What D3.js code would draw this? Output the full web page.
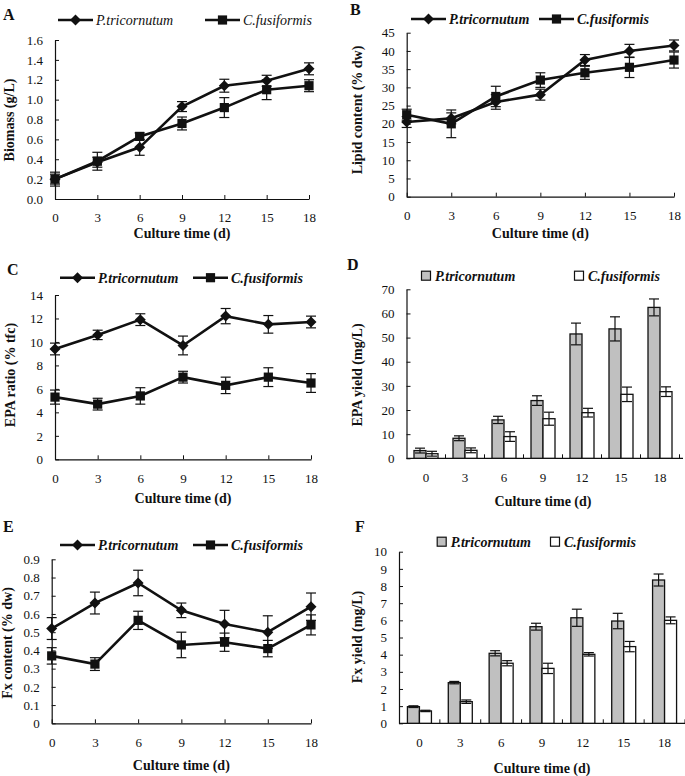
<!DOCTYPE html>
<html><head><meta charset="utf-8">
<script src="https://cdn.jsdelivr.net/npm/d3@7"></script>
<style>
body{margin:0;background:#fff;}
svg text{font-family:"Liberation Serif","Times New Roman",serif;fill:#111;}
</style></head>
<body><svg id="chart" width="685" height="776"></svg>
<script>
// ---------- DATA ----------
const days = ["0","3","6","9","12","15","18"];
const seriesNames = ["P.tricornutum","C.fusiformis"];

// A: Biomass (g/L)
const biomassP    = [0.20,0.37,0.52,0.93,1.14,1.19,1.31];
const biomassPErr = [0.05,0.05,0.08,0.05,0.065,0.055,0.06];
const biomassC    = [0.20,0.38,0.63,0.76,0.92,1.10,1.14];
const biomassCErr = [0.07,0.09,0.035,0.065,0.10,0.10,0.06];
const biomassTicks = [0,0.2,0.4,0.6,0.8,1.0,1.2,1.4,1.6];

// B: Lipid content (% dw)
const lipidP    = [20.5,21.5,26.0,28.0,37.5,40.0,41.5];
const lipidPErr = [1.5,1.5,2.0,1.5,1.5,1.8,1.5];
const lipidC    = [22.5,20.0,27.5,32.0,34.0,35.5,37.5];
const lipidCErr = [1.5,3.8,2.8,2.0,1.8,2.8,2.2];
const lipidTicks = [0,5,10,15,20,25,30,35,40,45];

// C: EPA ratio (% tfc)
const epaRatioP    = [9.4,10.6,11.9,9.7,12.2,11.5,11.7];
const epaRatioPErr = [0.5,0.4,0.5,0.8,0.65,0.75,0.5];
const epaRatioC    = [5.3,4.7,5.4,7.0,6.3,7.0,6.5];
const epaRatioCErr = [0.6,0.5,0.7,0.5,0.7,0.8,0.8];
const epaRatioTicks = [0,2,4,6,8,10,12,14];

// D: EPA yield (mg/L)
const epaYieldP    = [3.2,8.3,15.9,23.9,51.5,53.6,62.5];
const epaYieldPErr = [1.0,1.0,1.5,2.0,4.5,5.0,3.5];
const epaYieldC    = [1.9,3.3,9.0,16.4,18.9,26.5,27.6];
const epaYieldCErr = [1.0,1.0,2.0,2.7,1.8,3.0,2.0];
const epaYieldTicks = [0,10,20,30,40,50,60,70];

// E: Fx content (% dw)
const fxContentP    = [0.52,0.66,0.77,0.62,0.545,0.50,0.64];
const fxContentPErr = [0.06,0.06,0.07,0.04,0.075,0.09,0.075];
const fxContentC    = [0.37,0.325,0.565,0.43,0.445,0.41,0.54];
const fxContentCErr = [0.045,0.035,0.05,0.07,0.05,0.045,0.055];
const fxContentTicks = [0,0.1,0.2,0.3,0.4,0.5,0.6,0.7,0.8,0.9];

// F: Fx yield (mg/L)
const fxYieldP    = [0.97,2.37,4.08,5.63,6.15,5.96,8.35];
const fxYieldPErr = [0.05,0.07,0.15,0.2,0.5,0.45,0.35];
const fxYieldC    = [0.72,1.26,3.50,3.20,4.02,4.47,6.00];
const fxYieldCErr = [0.04,0.1,0.15,0.3,0.1,0.3,0.2];
const fxYieldTicks = [0,1,2,3,4,5,6,7,8,9,10];

const xTitle = "Culture time (d)";

// ---------- DRAW ----------
const svg = d3.select("#chart");
const INK = "#111";

function diamondPath(r){ return `M0,${-r}L${r},0L0,${r}L${-r},0Z`; }
function squarePath(r){ return `M${-r},${-r}H${r}V${r}H${-r}Z`; }

function yAxis(g, y, ticks, fmt, x0){
  const ax = g.append("g").attr("transform",`translate(${x0},0)`)
    .call(d3.axisLeft(y).tickValues(ticks).tickFormat(fmt).tickSizeInner(-4).tickSizeOuter(0).tickPadding(12));
  ax.select(".domain").attr("stroke",INK).attr("stroke-width",1.2);
  ax.selectAll(".tick line").attr("stroke",INK);
  ax.selectAll("text").attr("font-size",13).attr("font-family","Liberation Serif").attr("fill",INK);
  return ax;
}

function panelLabels(g, p){
  g.append("text").attr("x",p.letterX).attr("y",p.letterY).attr("font-size",16).attr("font-weight","bold").text(p.letter);
  g.append("text").attr("x",(p.xl+p.xr)/2).attr("y",p.titleY).attr("text-anchor","middle")
    .attr("font-size",14).attr("font-weight","bold").text(xTitle);
  g.append("text").attr("transform",`translate(${p.ylabX},${p.ylabY}) rotate(-90)`).attr("text-anchor","middle")
    .attr("font-size",14).attr("font-weight","bold").text(p.ylab);
}

function linePanel(p){
  const g = svg.append("g");
  const x = d3.scalePoint().domain(days).range([p.xl,p.xr]);
  const y = d3.scaleLinear().domain([p.ticks[0],p.ticks[p.ticks.length-1]]).range([p.yb,p.yt]);
  yAxis(g,y,p.ticks,p.fmt,p.xl);
  const xa = g.append("g").attr("transform",`translate(0,${p.yb})`)
    .call(d3.axisBottom(x).tickSizeInner(-4).tickSizeOuter(0).tickPadding(14));
  xa.select(".domain").attr("stroke",INK).attr("stroke-width",1.2);
  xa.selectAll(".tick line").attr("stroke",INK);
  xa.selectAll("text").attr("font-size",13).attr("font-family","Liberation Serif").attr("fill",INK);

  const sets = [{v:p.P,e:p.PE,m:diamondPath(5.5)},{v:p.C,e:p.CE,m:squarePath(4.6)}];
  sets.forEach(s=>{
    // error bars
    days.forEach((d,i)=>{
      const cx=x(d), top=y(s.v[i]+s.e[i]), bot=y(s.v[i]-s.e[i]);
      g.append("line").attr("x1",cx).attr("x2",cx).attr("y1",top).attr("y2",bot).attr("stroke",INK).attr("stroke-width",1.2);
      [top,bot].forEach(yy=>g.append("line").attr("x1",cx-5).attr("x2",cx+5).attr("y1",yy).attr("y2",yy).attr("stroke",INK).attr("stroke-width",1.2));
    });
    g.append("path").datum(s.v).attr("fill","none").attr("stroke",INK).attr("stroke-width",2.6)
      .attr("d",d3.line().x((v,i)=>x(days[i])).y(v=>y(v)));
    g.selectAll(null).data(s.v).enter().append("path").attr("d",s.m).attr("fill",INK)
      .attr("transform",(v,i)=>`translate(${x(days[i])},${y(v)})`);
  });
  // legend
  const lg = p.legend;
  [[lg.x1,diamondPath(5.5),seriesNames[0]],[lg.x2,squarePath(4.6),seriesNames[1]]].forEach(([lx,m,name])=>{
    g.append("line").attr("x1",lx).attr("x2",lx+35).attr("y1",lg.y).attr("y2",lg.y).attr("stroke",INK).attr("stroke-width",2.6);
    g.append("path").attr("d",m).attr("fill",INK).attr("transform",`translate(${lx+17.5},${lg.y})`);
    g.append("text").attr("x",lx+38).attr("y",lg.y+5).attr("font-size",14).attr("font-style","italic")
      .attr("font-weight",lg.bold?"bold":"normal").text(name);
  });
  panelLabels(g,p);
}

function barPanel(p){
  const g = svg.append("g");
  const x = d3.scaleBand().domain(days).range([p.xl,p.xr]).paddingInner(0).paddingOuter(0);
  const y = d3.scaleLinear().domain([p.ticks[0],p.ticks[p.ticks.length-1]]).range([p.yb,p.yt]);
  yAxis(g,y,p.ticks,p.fmt,p.xl);
  g.append("line").attr("x1",p.xl).attr("x2",p.axisEnd).attr("y1",p.yb).attr("y2",p.yb).attr("stroke",INK).attr("stroke-width",1.2);
  // ticks at band boundaries
  days.forEach((d,i)=>{ if(i>0){ const bx=x(d);
    g.append("line").attr("x1",bx).attr("x2",bx).attr("y1",p.yb).attr("y2",p.yb-4).attr("stroke",INK);} });
  g.append("line").attr("x1",x(days[6])+x.bandwidth()).attr("x2",x(days[6])+x.bandwidth()).attr("y1",p.yb).attr("y2",p.yb-4).attr("stroke",INK);
  g.selectAll(null).data(days).enter().append("text").attr("x",d=>x(d)+x.bandwidth()/2).attr("y",p.yb+24)
    .attr("text-anchor","middle").attr("font-size",13).text(d=>d);
  const inner = d3.scaleBand().domain(seriesNames).range([-12,12]);
  const sets=[{v:p.P,e:p.PE,fill:"#c0c0c0",n:seriesNames[0]},{v:p.C,e:p.CE,fill:"#ffffff",n:seriesNames[1]}];
  sets.forEach(s=>{
    days.forEach((d,i)=>{
      const bx = x(d)+x.bandwidth()/2+inner(s.n);
      const w = inner.bandwidth();
      g.append("rect").attr("x",bx).attr("y",y(s.v[i])).attr("width",w).attr("height",p.yb-y(s.v[i]))
        .attr("fill",s.fill).attr("stroke",INK).attr("stroke-width",1.3);
      const cx=bx+w/2, top=y(s.v[i]+s.e[i]), bot=y(s.v[i]-s.e[i]);
      g.append("line").attr("x1",cx).attr("x2",cx).attr("y1",top).attr("y2",bot).attr("stroke",INK).attr("stroke-width",1.2);
      [top,bot].forEach(yy=>g.append("line").attr("x1",cx-5).attr("x2",cx+5).attr("y1",yy).attr("y2",yy).attr("stroke",INK).attr("stroke-width",1.2));
    });
  });
  const lg=p.legend;
  [[lg.x1,"#c0c0c0",seriesNames[0]],[lg.x2,"#ffffff",seriesNames[1]]].forEach(([lx,f,name])=>{
    g.append("rect").attr("x",lx-4.5).attr("y",lg.y-4.5).attr("width",9).attr("height",9).attr("fill",f).attr("stroke",INK).attr("stroke-width",1.2);
    g.append("text").attr("x",lx+9).attr("y",lg.y+5).attr("font-size",14).attr("font-style","italic").attr("font-weight","bold").text(name);
  });
  panelLabels(g,p);
}

const f1 = d3.format(".1f");
const fInt = d3.format("d");
const fFx = v => v===0 ? "0" : d3.format(".1f")(v);

linePanel({letter:"A",letterX:3,letterY:20,xl:55,xr:309,yt:40,yb:199,ticks:biomassTicks,fmt:f1,
  P:biomassP,PE:biomassPErr,C:biomassC,CE:biomassCErr,titleY:238,ylab:"Biomass (g/L)",ylabX:14,ylabY:120,
  legend:{x1:58,x2:205,y:20,bold:false}});
linePanel({letter:"B",letterX:350,letterY:15,xl:406.7,xr:674,yt:32.7,yb:196.7,ticks:lipidTicks,fmt:fInt,
  P:lipidP,PE:lipidPErr,C:lipidC,CE:lipidCErr,titleY:238,ylab:"Lipid content (% dw)",ylabX:362,ylabY:110,
  legend:{x1:411,x2:539,y:19,bold:true}});
linePanel({letter:"C",letterX:7,letterY:275,xl:55,xr:311,yt:295,yb:459.3,ticks:epaRatioTicks,fmt:fInt,
  P:epaRatioP,PE:epaRatioPErr,C:epaRatioC,CE:epaRatioCErr,titleY:503,ylab:"EPA ratio (% tfc)",ylabX:15,ylabY:375,
  legend:{x1:60,x2:193,y:277.7,bold:true}});
barPanel({letter:"D",letterX:347,letterY:270,xl:406.5,xr:679.5,axisEnd:683,yt:289.3,yb:458.3,ticks:epaYieldTicks,fmt:fInt,
  P:epaYieldP,PE:epaYieldPErr,C:epaYieldC,CE:epaYieldCErr,titleY:506,ylab:"EPA yield (mg/L)",ylabX:362,ylabY:375,
  legend:{x1:426,x2:579,y:275.7}});
linePanel({letter:"E",letterX:3,letterY:532,xl:51.7,xr:311,yt:559.3,yb:723.3,ticks:fxContentTicks,fmt:fFx,
  P:fxContentP,PE:fxContentPErr,C:fxContentC,CE:fxContentCErr,titleY:770,ylab:"Fx content (% dw)",ylabX:12,ylabY:643,
  legend:{x1:60,x2:193,y:545,bold:true}});
barPanel({letter:"F",letterX:355,letterY:532,xl:399,xr:685,axisEnd:685,yt:551.7,yb:723.3,ticks:fxYieldTicks,fmt:fInt,
  P:fxYieldP,PE:fxYieldPErr,C:fxYieldC,CE:fxYieldCErr,titleY:773,ylab:"Fx yield (mg/L)",ylabX:362,ylabY:637,
  legend:{x1:441.7,x2:555,y:541.7}});
</script></body></html>
